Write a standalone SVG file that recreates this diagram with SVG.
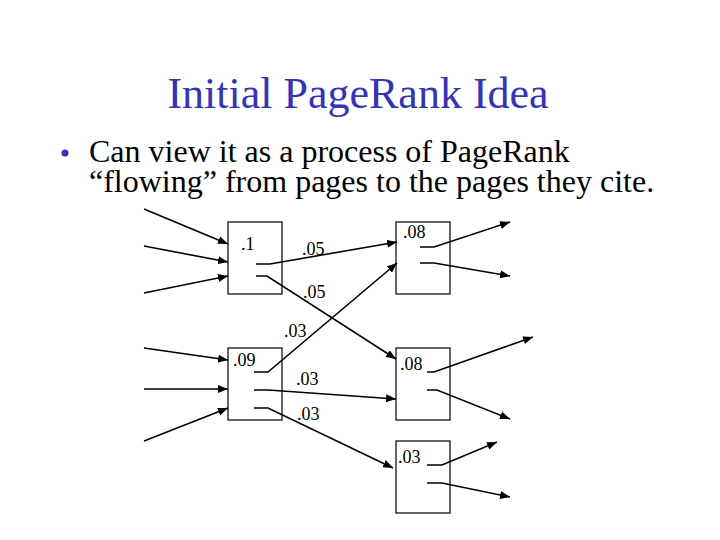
<svg xmlns="http://www.w3.org/2000/svg" width="720" height="540" viewBox="0 0 720 540">
<style>
text{font-family:'Liberation Serif','DejaVu Serif','Times New Roman',serif}
.title{font-size:44px;fill:#3434B4}
.body{font-size:32px;fill:#000}
.lbl{font-size:18px;fill:#000}
.box{fill:#fff;stroke:#000;stroke-width:1.2}
.ln{fill:none;stroke:#000;stroke-width:1.6;marker-end:url(#ah)}
</style>
<defs>
<marker id="ah" markerUnits="userSpaceOnUse" markerWidth="10" markerHeight="8" refX="10" refY="4" orient="auto">
<path d="M0,0 L10,4 L0,8 z" fill="#000"/>
</marker>
</defs>
<rect width="720" height="540" fill="#fff"/>
<text class="title" font-family="Liberation Serif, serif" x="358" y="108" text-anchor="middle">Initial PageRank Idea</text>
<circle cx="65" cy="153" r="3.5" fill="#3434B4"/>
<text class="body" x="89" y="162">Can view it as a process of PageRank</text>
<text class="body" x="89" y="192">“flowing” from pages to the pages they cite.</text>

<g id="node-1"><rect class="box" x="228" y="222" width="54" height="72"/><text class="lbl" x="241" y="250">.1</text></g>
<g id="node-2"><rect class="box" x="396" y="222" width="54" height="72"/><text class="lbl" x="403" y="238">.08</text></g>
<g id="node-3"><rect class="box" x="228" y="348" width="54" height="72"/><text class="lbl" x="233" y="366">.09</text></g>
<g id="node-4"><rect class="box" x="396" y="348" width="54" height="72"/><text class="lbl" x="400" y="370">.08</text></g>
<g id="node-5"><rect class="box" x="396" y="441" width="54" height="72"/><text class="lbl" x="398" y="463">.03</text></g>

<g id="connectors">
<line class="ln" x1="144" y1="209" x2="228" y2="244"/>
<line class="ln" x1="144" y1="246" x2="228" y2="262"/>
<line class="ln" x1="144" y1="293" x2="228" y2="276"/>
<line class="ln" x1="144" y1="348" x2="228" y2="360"/>
<line class="ln" x1="144" y1="389" x2="228" y2="389"/>
<line class="ln" x1="144" y1="441" x2="228" y2="408"/>
<polyline class="ln" points="256,264 270,264 397,242"/>
<polyline class="ln" points="256,276 267,276 396,359"/>
<polyline class="ln" points="254,372 268,372 397,263"/>
<polyline class="ln" points="254,390 268,390 396,399"/>
<polyline class="ln" points="254,408 268,408 393,468"/>
<polyline class="ln" points="420,247 434,247 510,222"/>
<polyline class="ln" points="420,263 434,263 510,276"/>
<polyline class="ln" points="427,372 434,372 533,337"/>
<polyline class="ln" points="427,390 437,390 510,419"/>
<polyline class="ln" points="427,465 442,465 497,442"/>
<polyline class="ln" points="427,483 442,483 510,497"/>
<text class="lbl" x="302" y="255">.05</text>
<text class="lbl" x="303" y="298">.05</text>
<text class="lbl" x="284" y="337">.03</text>
<text class="lbl" x="296" y="385">.03</text>
<text class="lbl" x="297" y="420">.03</text>
</g>
</svg>
